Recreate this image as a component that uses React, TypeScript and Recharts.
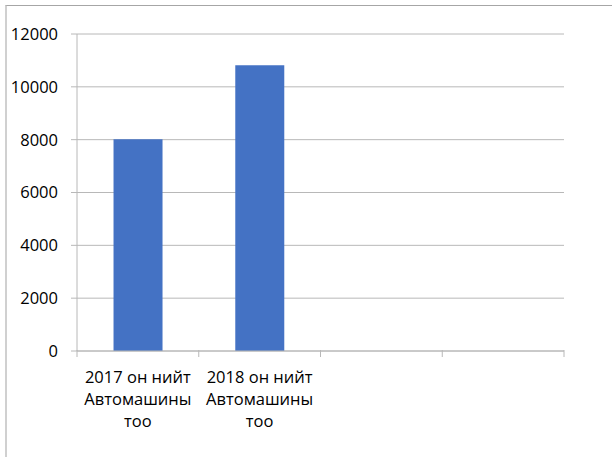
import React from 'react'
import { BarChart, Bar, XAxis, YAxis, CartesianGrid } from 'recharts'

// categories (each label split into its lines) and values
const categoryLines: string[][] = [
  ['2017 он нийт', 'Автомашины', 'тоо'],
  ['2018 он нийт', 'Автомашины', 'тоо'],
  [],
  [],
]
const carCounts: (number | null)[] = [8020, 10820, null, null]
const yTicks = [0, 2000, 4000, 6000, 8000, 10000, 12000]

const chartData = categoryLines.map((lines, i) => ({
  name: String(i),
  lines,
  count: carCounts[i],
}))

const W = 612
const H = 457
const PLOT_LEFT = 77
const PLOT_RIGHT = 564
const BAND = (PLOT_RIGHT - PLOT_LEFT) / categoryLines.length
const FONT = '"Open Sans", sans-serif'
const AXIS_COLOR = '#b8b8b8'

// category tick: boundary tick marks + multi-line centred label
const CategoryTick = (props: any) => {
  const { x, y, payload, index } = props
  const lines = categoryLines[payload?.index ?? index] || []
  const axisY = y - 6 // y arrives shifted by tickMargin
  const left = x - BAND / 2
  const isLast = (payload?.index ?? index) === categoryLines.length - 1
  return (
    <g>
      <line x1={left} y1={axisY - 1} x2={left} y2={axisY + 6} stroke={AXIS_COLOR} />
      {isLast && (
        <line x1={left + BAND} y1={axisY - 1} x2={left + BAND} y2={axisY + 6} stroke={AXIS_COLOR} />
      )}
      {lines.map((line, i) => (
        <text
          key={i}
          x={x}
          y={383 + i * 22}
          textAnchor="middle"
          fontFamily={FONT}
          fontSize={16.5}
          fill="#000"
        >
          {line}
        </text>
      ))}
    </g>
  )
}

export default function App() {
  return (
    <div style={{ position: 'fixed', left: 0, top: 0, width: W, height: H, background: '#fff' }}>
      <div
        style={{
          position: 'absolute',
          left: 5,
          top: 5,
          width: W,
          height: H,
          borderLeft: '2px solid #d0d0d0',
          borderTop: '1px solid #a6a6a6',
        }}
      />
      <div style={{ position: 'absolute', left: 0, top: 0 }}>
        <BarChart
          width={W}
          height={H}
          data={chartData}
          margin={{ top: 34, right: W - PLOT_RIGHT, bottom: 0, left: 0 }}
          barCategoryGap="30%"
        >
          <CartesianGrid vertical={false} stroke={AXIS_COLOR} />
          <XAxis
            dataKey="name"
            height={106}
            axisLine={{ stroke: AXIS_COLOR }}
            tickLine={false}
            tickSize={0}
            tickMargin={6}
            interval={0}
            tick={<CategoryTick />}
          />
          <YAxis
            width={PLOT_LEFT}
            domain={[0, 12000]}
            ticks={yTicks}
            interval={0}
            axisLine={{ stroke: AXIS_COLOR }}
            tickLine={{ stroke: AXIS_COLOR }}
            tickSize={6}
            tickMargin={13}
            tick={{ fontFamily: FONT, fontSize: 16.5, fill: '#000' }}
          />
          <Bar dataKey="count" fill="#4472c4" isAnimationActive={false} />
        </BarChart>
      </div>
    </div>
  )
}
